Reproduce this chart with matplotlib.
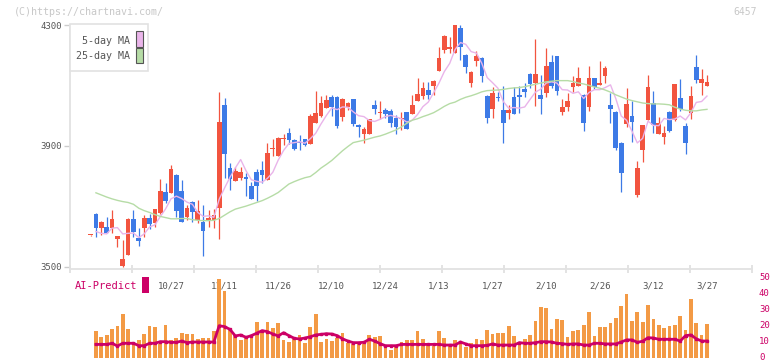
import numpy as np
import matplotlib
matplotlib.use("Agg")
import matplotlib.pyplot as plt
import matplotlib.transforms as mtransforms
from matplotlib.patches import Rectangle

plt.rcParams["font.family"] = ["DejaVu Sans Mono"]

# 日足 (始値, 高値, 安値, 終値) - 画像から読み取り
opens = [3604, 3675, 3630, 3631, 3627, 3593, 3503, 3540, 3658, 3596,
         3629, 3661, 3645, 3677, 3749, 3746, 3804, 3751, 3664, 3713,
         3655, 3650, 3653, 3655, 3695, 4036, 3826, 3785, 3795, 3797,
         3768, 3813, 3821, 3788, 3890, 3867, 3923, 3944, 3920, 3911,
         3922, 3905, 3977, 3999, 4027, 4063, 4063, 3997, 4028, 4054,
         3969, 3938, 3938, 4035, 4010, 4019, 4017, 3994, 3990, 4011,
         4006, 4047, 4066, 4085, 4099, 4149, 4217, 4221, 4208, 4289,
         4201, 4107, 4182, 4192, 4065, 4023, 4063, 4019, 4010, 4061,
         4069, 4088, 4138, 4107, 4069, 4076, 4177, 4197, 4013, 4030,
         4096, 4099, 4069, 4030, 4124, 4102, 4132, 4036, 4013, 3909,
         3973, 3999, 3738, 3885, 3986, 4041, 3940, 3928, 4013, 3986,
         4058, 3966, 4010, 4160, 4109, 4098]
highs = [3607, 3677, 3653, 3665, 3688, 3601, 3589, 3661, 3688, 3627,
         3672, 3675, 3693, 3790, 3777, 3837, 3806, 3788, 3705, 3719,
         3722, 3705, 3688, 3691, 4080, 4058, 3843, 3829, 3829, 3810,
         3782, 3823, 3850, 3909, 3922, 3929, 3940, 3958, 3922, 3936,
         3924, 4004, 4082, 4065, 4069, 4069, 4065, 4058, 4046, 4056,
         3973, 3962, 3989, 4052, 4049, 4024, 4021, 4002, 4013, 4013,
         4068, 4126, 4113, 4113, 4117, 4228, 4266, 4261, 4303, 4300,
         4203, 4148, 4214, 4194, 4067, 4096, 4080, 4098, 4035, 4096,
         4098, 4107, 4140, 4254, 4135, 4223, 4201, 4199, 4055, 4076,
         4131, 4160, 4071, 4164, 4126, 4181, 4164, 4074, 4015, 3914,
         4091, 4049, 3850, 3969, 4135, 4082, 3997, 3966, 4015, 4105,
         4121, 3977, 4098, 4201, 4153, 4135]
lows = [3603, 3600, 3604, 3613, 3611, 3567, 3500, 3540, 3600, 3569,
        3600, 3625, 3631, 3675, 3710, 3746, 3666, 3647, 3655, 3650,
        3644, 3536, 3631, 3628, 3593, 3793, 3755, 3785, 3788, 3735,
        3725, 3719, 3779, 3788, 3867, 3867, 3903, 3905, 3887, 3887,
        3901, 3905, 3975, 3997, 4027, 3999, 3958, 3983, 4019, 3966,
        3931, 3909, 3938, 4006, 3988, 3991, 3964, 3940, 3953, 3957,
        4006, 4047, 4055, 4055, 4069, 4149, 4206, 4208, 4208, 4184,
        4140, 4096, 4166, 4113, 3975, 3994, 4049, 3909, 3988, 4006,
        4008, 4063, 4091, 4033, 4005, 4061, 4093, 4069, 4002, 4017,
        4080, 4099, 3951, 4017, 4087, 4102, 4109, 3977, 3887, 3749,
        3961, 3914, 3730, 3848, 3986, 3944, 3940, 3907, 3947, 3983,
        4017, 3874, 3988, 4109, 4069, 4098]
closes = [3606, 3630, 3649, 3613, 3658, 3601, 3526, 3659, 3614, 3587,
          3661, 3641, 3691, 3751, 3718, 3824, 3686, 3650, 3694, 3683,
          3686, 3620, 3662, 3671, 3980, 3874, 3791, 3817, 3814, 3792,
          3725, 3766, 3804, 3878, 3892, 3926, 3926, 3920, 3889, 3909,
          3903, 4000, 4008, 4043, 4052, 4028, 3967, 4054, 4041, 3973,
          3964, 3955, 3989, 4022, 4012, 4006, 3977, 3961, 3993, 3957,
          4035, 4072, 4091, 4069, 4115, 4192, 4264, 4226, 4300, 4228,
          4162, 4146, 4197, 4132, 3994, 4074, 4060, 3977, 4019, 4006,
          4063, 4079, 4104, 4138, 4055, 4164, 4099, 4083, 4028, 4049,
          4109, 4124, 3977, 4126, 4096, 4109, 4157, 4022, 3894, 3812,
          4039, 3980, 3826, 3969, 4096, 3969, 3975, 3944, 3950, 4105,
          4021, 3911, 4065, 4118, 4120, 4113]

# 移動平均
ma5 = [np.nan, 3617, 3611, 3609, 3628, 3630, 3609, 3611, 3612, 3597,
       3609, 3632, 3639, 3666, 3692, 3725, 3734, 3726, 3714, 3707,
       3680, 3667, 3669, 3664, 3724, 3761, 3796, 3827, 3855, 3818,
       3788, 3783, 3780, 3793, 3813, 3853, 3885, 3908, 3911, 3914,
       3909, 3924, 3942, 3973, 4001, 4026, 4020, 4029, 4028, 4013,
       4000, 3997, 3984, 3981, 3988, 3997, 4001, 3996, 3990, 3979,
       3985, 4004, 4030, 4045, 4076, 4108, 4146, 4173, 4219, 4242,
       4236, 4212, 4207, 4173, 4126, 4109, 4091, 4047, 4025, 4027,
       4025, 4029, 4054, 4078, 4088, 4108, 4112, 4108, 4086, 4085,
       4074, 4079, 4057, 4077, 4086, 4086, 4093, 4102, 4056, 3999,
       3985, 3949, 3910, 3925, 3982, 3968, 3967, 3991, 3987, 3989,
       3999, 3986, 4010, 4044, 4047, 4065]
ma25 = [np.nan, 3745, 3738, 3731, 3725, 3720, 3716, 3713, 3707, 3694,
        3686, 3680, 3673, 3667, 3663, 3659, 3659, 3660, 3660, 3656,
        3654, 3653, 3653, 3654, 3660, 3671, 3682, 3691, 3696, 3701,
        3707, 3713, 3719, 3727, 3736, 3746, 3760, 3774, 3782, 3789,
        3795, 3799, 3812, 3827, 3839, 3852, 3868, 3884, 3898, 3911,
        3915, 3919, 3924, 3929, 3933, 3939, 3946, 3953, 3963, 3975,
        3985, 3990, 3997, 4003, 4010, 4020, 4031, 4040, 4045, 4054,
        4061, 4066, 4072, 4079, 4083, 4084, 4085, 4087, 4090, 4092,
        4093, 4096, 4100, 4104, 4108, 4112, 4114, 4116, 4116, 4116,
        4113, 4108, 4105, 4100, 4095, 4091, 4085, 4078, 4069, 4062,
        4055, 4050, 4046, 4042, 4040, 4039, 4039, 4038, 4036, 4028,
        4022, 4018, 4016, 4016, 4019, 4021]

# 出来高 と AI-Predict
volume = [np.nan, 16.9, 13.1, 14.4, 18.1, 20.0, 27.5, 18.1, 8.8, 11.3,
          15.0, 20.0, 19.4, 8.8, 20.6, 11.3, 12.5, 15.6, 15.0, 15.0,
          11.9, 12.5, 12.5, 16.9, 49.4, 41.9, 18.8, 14.4, 11.3, 13.8,
          13.1, 22.5, 16.9, 22.5, 18.8, 21.9, 11.3, 10.0, 11.9, 14.4,
          9.4, 19.4, 27.5, 10.2, 11.9, 10.6, 12.7, 15.8, 9.6, 8.5,
          8.5, 8.5, 14.4, 12.9, 13.8, 7.7, 5.0, 7.5, 10.2, 11.3,
          11.3, 17.1, 11.9, 8.8, 7.7, 16.9, 12.7, 8.5, 11.3, 8.5,
          7.1, 9.6, 11.9, 11.3, 17.5, 15.0, 15.8, 15.4, 20.0, 13.8,
          8.5, 11.9, 14.4, 23.1, 32.1, 31.0, 18.1, 24.5, 23.8, 13.1,
          16.9, 17.5, 20.6, 28.5, 13.8, 19.4, 19.4, 22.1, 25.0, 32.5,
          40.2, 23.1, 28.8, 22.5, 33.1, 24.4, 20.6, 18.8, 20.0, 20.6,
          26.3, 17.5, 36.9, 22.1, 14.2, 21.3]
ai_predict = [np.nan, 8.5, 8.5, 8.5, 9.2, 7.5, 9.2, 9.2, 9.2, 7.7,
              7.7, 9.2, 9.2, 10.2, 10.2, 9.8, 9.8, 10.6, 9.6, 10.0,
              10.0, 10.0, 10.0, 10.0, 20.2, 19.6, 17.9, 13.8, 14.4, 12.9,
              14.0, 15.5, 17.1, 16.5, 15.0, 13.8, 15.8, 14.0, 12.3, 11.9,
              12.5, 13.3, 14.4, 14.8, 15.2, 15.0, 14.0, 12.0, 10.6, 9.6,
              9.6, 9.8, 11.7, 10.6, 9.0, 7.7, 7.7, 7.7, 8.5, 8.5,
              8.5, 8.5, 8.5, 8.5, 8.5, 8.5, 8.1, 8.1, 8.1, 10.0,
              8.8, 7.7, 7.7, 7.7, 7.9, 8.8, 8.1, 8.1, 8.1, 8.1,
              9.6, 9.2, 9.2, 9.6, 10.2, 10.2, 10.0, 9.2, 9.0, 8.5,
              8.8, 8.8, 8.1, 8.1, 9.2, 9.2, 8.8, 8.8, 8.8, 10.0,
              11.3, 11.3, 9.8, 10.5, 12.7, 12.5, 11.7, 11.7, 11.7, 11.7,
              10.6, 14.0, 14.4, 12.0, 10.6, 10.6]

date_labels = ["10/27", "11/11", "11/26", "12/10", "12/24", "1/13",
               "1/27", "2/10", "2/26", "3/12", "3/27"]
date_idx = [15, 25, 35, 45, 55, 65, 75, 85, 95, 105, 115]

RED = "#f2543f"
BLUE = "#3d7ae6"
GRAY = "#555555"
CRIMSON = "#cc0066"

W, H = 772, 361


def fx(px):
    return px / W


def fy(py):
    return 1 - py / H


fig = plt.figure(figsize=(W / 100, H / 100), dpi=100)
ax = fig.add_axes([fx(70), fy(269), fx(752) - fx(70), fy(25) - fy(269)])
axv = fig.add_axes([fx(70), fy(358), fx(752) - fx(70), fy(278) - fy(358)])
axv.patch.set_visible(False)

x = np.arange(len(closes))
o = np.array(opens, dtype=float)
c = np.array(closes, dtype=float)
colors = np.where(c >= o, RED, BLUE)
xlim = (-3.84, 123.4)

# ローソク足
ax.vlines(x, lows, highs, colors=colors, lw=0.9, zorder=2)
ax.bar(x, np.maximum(np.abs(c - o), 3.5), bottom=np.minimum(o, c),
       width=0.88, color=colors, linewidth=0, zorder=2)
ax.plot(x, ma5, color="#e9b4ea", lw=1.0, zorder=3)
ax.plot(x, ma25, color="#b6dca6", lw=1.0, zorder=3)

ax.set_xlim(xlim)
ax.set_ylim(3493, 4300)
for s in ["top", "right"]:
    ax.spines[s].set_visible(False)
for s in ["left", "bottom"]:
    ax.spines[s].set_color("#e2e2e2")
    ax.spines[s].set_linewidth(1.3)
ax.set_yticks([3500, 3900, 4300])
ax.tick_params(axis="y", length=4, width=1, color="#cccccc",
               labelcolor=GRAY, labelsize=6.5, pad=2)
ax.set_xticks(date_idx)
ax.set_xticklabels(date_labels)
ax.set_xticks(np.linspace(xlim[0], xlim[1], 12), minor=True)
ax.tick_params(axis="x", which="major", length=0, pad=9,
               labelcolor=GRAY, labelsize=6.5)
ax.tick_params(axis="x", which="minor", length=6, width=1.3,
               direction="inout", color="#e0e0e0")

# 出来高 + AI-Predict
axv.bar(x, volume, width=0.7, color="#f39a45", linewidth=0)
axv.plot(x, ai_predict, color=CRIMSON, lw=2.0, marker="s", ms=2.0)
axv.set_xlim(xlim)
axv.set_ylim(0, 50)
for s in axv.spines.values():
    s.set_visible(False)
axv.set_xticks([])
axv.yaxis.tick_right()
axv.set_yticks([0, 10, 20, 30, 40, 50])
axv.tick_params(axis="y", length=0, pad=5, labelcolor=CRIMSON, labelsize=6.5)
lift = mtransforms.ScaledTranslation(0, 2 / 100, fig.dpi_scale_trans)
for lab in axv.get_yticklabels():
    lab.set_transform(lab.get_transform() + lift)

fig.text(fx(75), fy(286), "AI-Predict", color=CRIMSON, fontsize=7.5,
         ha="left", va="center")
fig.add_artist(Rectangle((fx(142), fy(293)), fx(149) - fx(142),
                         fy(277) - fy(293), transform=fig.transFigure,
                         facecolor=CRIMSON, edgecolor="none"))

fig.text(fx(14), fy(12), "(C)https://chartnavi.com/", color="#c8c8c8",
         fontsize=7.2, ha="left", va="center")
fig.text(fx(757), fy(12), "6457", color="#c8c8c8", fontsize=7,
         ha="right", va="center")

# 凡例
fig.add_artist(Rectangle((fx(70), fy(71)), fx(148) - fx(70), fy(24) - fy(71),
                         transform=fig.transFigure, facecolor="white",
                         edgecolor="#e2e2e2", lw=1.2))
fig.text(fx(130), fy(41), "5-day MA", color=GRAY, fontsize=7.2,
         ha="right", va="center")
fig.text(fx(130), fy(56), "25-day MA", color=GRAY, fontsize=7.2,
         ha="right", va="center")
fig.add_artist(Rectangle((fx(136), fy(47)), fx(143) - fx(136), fy(31) - fy(47),
                         transform=fig.transFigure, facecolor="#eab5ea",
                         edgecolor=GRAY, lw=0.8))
fig.add_artist(Rectangle((fx(136), fy(63)), fx(143) - fx(136), fy(48) - fy(63),
                         transform=fig.transFigure, facecolor="#b6dca6",
                         edgecolor=GRAY, lw=0.8))

fig.savefig("out.png", dpi=100)
